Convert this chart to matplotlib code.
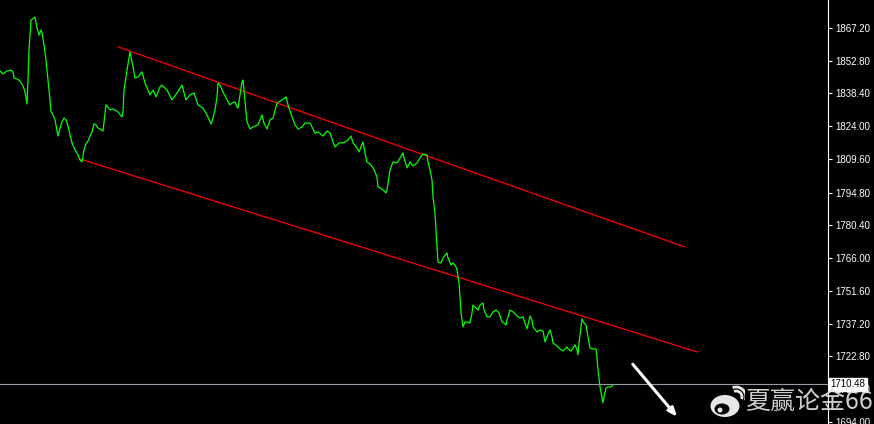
import matplotlib
matplotlib.use("Agg")
import matplotlib.pyplot as plt
import matplotlib.transforms as mtransforms
from matplotlib.patches import Ellipse, Arc

# price series (bar position, close)
bars = [0, 3, 7, 11, 13, 14, 17, 20, 23, 25, 26, 27, 28, 29, 31, 34, 35, 37, 39, 41,
        42, 44, 46, 48, 50, 51, 53, 55, 57, 58, 60, 62, 64, 66, 68, 70, 72, 75, 78, 80,
        82, 84, 86, 88, 90, 92, 94, 96, 98, 100, 103, 106, 110, 113, 118, 122, 123, 124, 127, 130,
        133, 135, 138, 142, 145, 150, 153, 156, 160, 162, 167, 172, 177, 182, 186, 190, 194, 198, 203, 207,
        211, 213, 215, 217, 218, 220, 223, 227, 230, 232, 235, 237, 238, 240, 242, 243, 244, 247, 250, 253,
        258, 262, 264, 267, 270, 273, 277, 282, 286, 288, 292, 295, 298, 302, 305, 310, 312, 315, 318, 323,
        327, 330, 333, 335, 339, 343, 347, 351, 353, 357, 359, 363, 365, 367, 370, 373, 377, 378, 382, 386,
        387, 390, 393, 397, 399, 403, 404, 407, 410, 413, 417, 420, 423, 427, 428, 430, 432, 433, 435, 436,
        437, 438, 441, 443, 447, 448, 451, 453, 456, 457, 459, 460, 461, 463, 465, 467, 470, 472, 473, 476,
        478, 480, 483, 484, 487, 490, 493, 496, 499, 502, 504, 506, 507, 510, 513, 517, 520, 523, 525, 527,
        530, 532, 533, 537, 540, 543, 545, 547, 550, 552, 553, 557, 560, 563, 567, 568, 571, 573, 575, 577,
        578, 579, 581, 582, 584, 586, 588, 590, 593, 596, 597, 598, 600, 602, 603, 604, 606, 608, 611, 613]
close = [1848.3, 1847.0, 1848.3, 1848.7, 1847.9, 1845.2, 1844.8, 1843.9, 1841.7, 1839.1,
         1836.4, 1833.8, 1844.3, 1857.5, 1870.7, 1871.6, 1872.0, 1867.2, 1864.1, 1866.3,
         1865.0, 1859.7, 1853.1, 1844.3, 1835.6, 1830.3, 1829.0, 1826.8, 1821.9, 1819.7,
         1823.2, 1825.9, 1827.6, 1826.8, 1824.1, 1820.2, 1816.7, 1813.6, 1811.4, 1809.2,
         1808.3, 1813.6, 1816.2, 1817.5, 1819.7, 1821.5, 1825.0, 1824.6, 1823.2, 1822.8,
         1821.9, 1833.4, 1831.2, 1831.6, 1830.3, 1828.1, 1830.3, 1839.9, 1848.7, 1856.7,
         1850.1, 1845.2, 1845.7, 1847.9, 1843.0, 1837.8, 1839.9, 1836.9, 1841.3, 1842.1,
         1839.9, 1835.6, 1838.6, 1842.1, 1835.6, 1837.8, 1838.6, 1833.4, 1832.0, 1829.0,
         1825.0, 1827.6, 1831.2, 1836.9, 1843.0, 1842.1, 1839.1, 1835.6, 1833.4, 1834.2,
         1834.7, 1832.5, 1832.0, 1837.8, 1843.5, 1844.3, 1839.9, 1825.9, 1822.8, 1823.7,
         1824.6, 1829.0, 1825.4, 1822.8, 1826.8, 1827.6, 1834.2, 1835.6, 1836.9, 1833.4,
         1828.1, 1824.6, 1822.8, 1823.7, 1825.4, 1825.4, 1823.7, 1821.0, 1821.5, 1819.7,
         1821.9, 1821.0, 1817.1, 1814.9, 1816.7, 1816.7, 1817.5, 1819.7, 1816.7, 1814.5,
         1812.7, 1817.1, 1812.3, 1808.3, 1807.4, 1805.7, 1801.7, 1797.3, 1796.4, 1794.7,
         1796.0, 1804.8, 1808.3, 1807.9, 1809.2, 1812.3, 1810.1, 1805.7, 1808.3, 1806.5,
         1807.9, 1810.1, 1811.8, 1811.4, 1808.3, 1804.8, 1800.4, 1792.9, 1785.9, 1778.4,
         1770.9, 1764.3, 1763.9, 1766.1, 1768.3, 1766.1, 1763.0, 1763.9, 1762.1, 1760.8,
         1755.1, 1749.0, 1741.9, 1735.8, 1738.0, 1738.0, 1737.5, 1741.9, 1745.4, 1744.1,
         1743.2, 1745.4, 1746.3, 1743.2, 1740.2, 1740.2, 1742.4, 1743.2, 1741.9, 1738.0,
         1737.5, 1736.6, 1738.8, 1743.2, 1742.4, 1740.6, 1739.7, 1740.2, 1737.5, 1734.9,
         1740.6, 1738.8, 1735.8, 1733.6, 1734.4, 1734.0, 1729.2, 1731.4, 1734.4, 1731.4,
         1728.7, 1727.4, 1726.1, 1725.2, 1727.0, 1726.1, 1725.2, 1726.5, 1727.9, 1725.7,
         1723.5, 1728.7, 1735.8, 1739.3, 1737.5, 1736.6, 1731.4, 1726.5, 1726.1, 1726.1,
         1722.6, 1716.9, 1709.4, 1704.6, 1702.4, 1705.0, 1708.9, 1709.4, 1709.4, 1710.3]

# channel lines (start bar, start price, end bar, end price)
upper_line = [118, 1858.9, 685, 1770.9]
lower_line = [80, 1809.6, 697, 1724.8]

last_price = 1710.48
price_ticks = [1867.20, 1852.80, 1838.40, 1824.00, 1809.60, 1794.80, 1780.40,
               1766.00, 1751.60, 1737.20, 1722.80, 1708.40, 1694.00]
watermark = "夏赢论金66"

fig = plt.figure(figsize=(8.74, 4.24), dpi=100, facecolor="black")
ax = fig.add_axes([0, 0, 828 / 874, 1])
ax.set_facecolor("black")

ax.plot(bars, close, color="#00ff00", lw=0.9, zorder=3)
ax.plot([upper_line[0], upper_line[2]], [upper_line[1], upper_line[3]], color="#ff0000", lw=0.9, zorder=2)
ax.plot([lower_line[0], lower_line[2]], [lower_line[1], lower_line[3]], color="#ff0000", lw=0.9, zorder=2)
ax.axhline(last_price, color="#9a9aa8", lw=0.8, zorder=1)

# white arrow pointing down
ax.annotate("", xy=(679, 1695.3), xytext=(631, 1720.3),
            arrowprops=dict(arrowstyle="-|>,head_length=0.5,head_width=0.2", color="white", lw=2.2))

ax.set_xlim(0, 828)
ax.set_ylim(1693.1, 1879.5)
ax.set_xticks([])
ax.yaxis.tick_right()
ax.set_yticks(price_ticks)
ax.set_yticklabels([f"{t:.2f}" for t in price_ticks])
ax.tick_params(axis="y", colors="white", length=3, width=0.8, pad=2, labelsize=7)
for lab in ax.get_yticklabels():
    lab.set_family("Liberation Sans")
for side in ["top", "bottom", "left"]:
    ax.spines[side].set_visible(False)
ax.spines["right"].set_color("white")
ax.spines["right"].set_linewidth(0.8)

# current price label
trans = mtransforms.blended_transform_factory(ax.transAxes, ax.transData)
ax.text(1.003, last_price, f"{last_price:.2f}", transform=trans, color="black", fontsize=7,
        family="Liberation Sans", va="center", ha="left", clip_on=False, zorder=5,
        bbox=dict(boxstyle="square,pad=0.15", fc="white", ec="white"))

# watermark (weibo-style logo + text)
fig.text(745 / 874, 1 - 402 / 424, watermark, color="#e6e6e6", fontsize=18,
         family=["Noto Sans CJK SC", "DejaVu Sans"], va="center", ha="left", alpha=0.9, zorder=6)
lax = fig.add_axes([700 / 874, 0, 45 / 874, 40 / 424])
lax.set_xlim(0, 45)
lax.set_ylim(0, 40)
lax.axis("off")
lax.add_patch(Ellipse((25, 18), 29, 22, fc="#e6e6e6", ec="none"))
lax.add_patch(Ellipse((22, 15), 15, 11, fc="black", ec="none"))
lax.add_patch(Ellipse((20, 14), 5, 5, fc="#e6e6e6", ec="none"))
lax.add_patch(Arc((36, 27), 12, 12, theta1=-20, theta2=110, color="#e6e6e6", lw=2))
lax.add_patch(Arc((36, 27), 20, 20, theta1=-20, theta2=110, color="#e6e6e6", lw=2))

fig.savefig("out.png", dpi=100, facecolor="black")
